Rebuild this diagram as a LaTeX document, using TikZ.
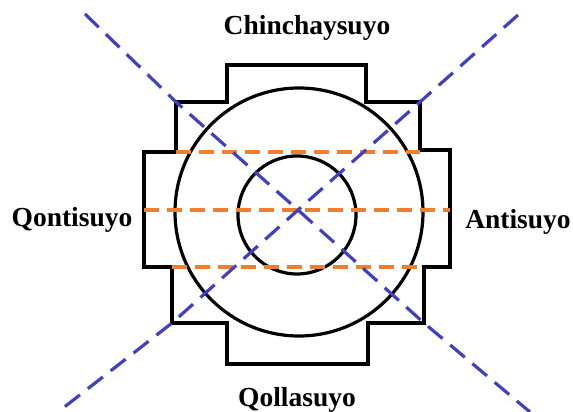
\documentclass[tikz,border=0pt]{standalone}
\usepackage{fontspec}
\setmainfont{Liberation Serif}
\definecolor{diagblue}{RGB}{64,64,192}
\definecolor{axisorange}{RGB}{240,126,44}
\tikzset{
  outline/.style={draw=black, line width=3.2pt, line join=miter},
  diag/.style={draw=diagblue, line width=3.2pt, dash pattern=on 19pt off 10pt},
  axis/.style={draw=axisorange, line width=3.4pt, dash pattern=on 15pt off 8pt},
  suyo/.style={font=\fontsize{27.5}{30}\selectfont\bfseries, inner sep=0pt, anchor=base}
}
\begin{document}
\begin{tikzpicture}[x=1pt,y=-1pt]
\useasboundingbox (0,0) rectangle (573,412);
% stepped cross
\draw[outline] (227,65) -- (366,65) -- (366,102) -- (420,102) -- (420,150) -- (450,150)
  -- (450,267) -- (424,267) -- (424,323) -- (368,323) -- (368,364) -- (227,364)
  -- (227,323) -- (172,323) -- (172,267) -- (144,267) -- (144,152) -- (176,152)
  -- (176,102) -- (227,102) -- cycle;
% circles
\draw[outline] (299,212) circle[radius=124pt];
\draw[outline] (297,215) circle[radius=59pt];
% orange axes
\draw[axis] (176,152) -- (420,152);
\draw[axis] (144,210) -- (450,210);
\draw[axis] (172,267) -- (424,267);
% blue diagonals
\draw[diag] (85,14) -- (176,102) -- (298,210) -- (424,323) -- (530,412);
\draw[diag] (518,15) -- (420,102) -- (298,210) -- (172,323) -- (58,412);
% labels
\node[suyo] (n) at (307,35) {Chinchaysuyo};
\node[suyo] (w) at (72,226) {Qontisuyo};
\node[suyo] (e) at (518,228) {Antisuyo};
\node[suyo] (s) at (297,406) {Qollasuyo};
\end{tikzpicture}
\end{document}
